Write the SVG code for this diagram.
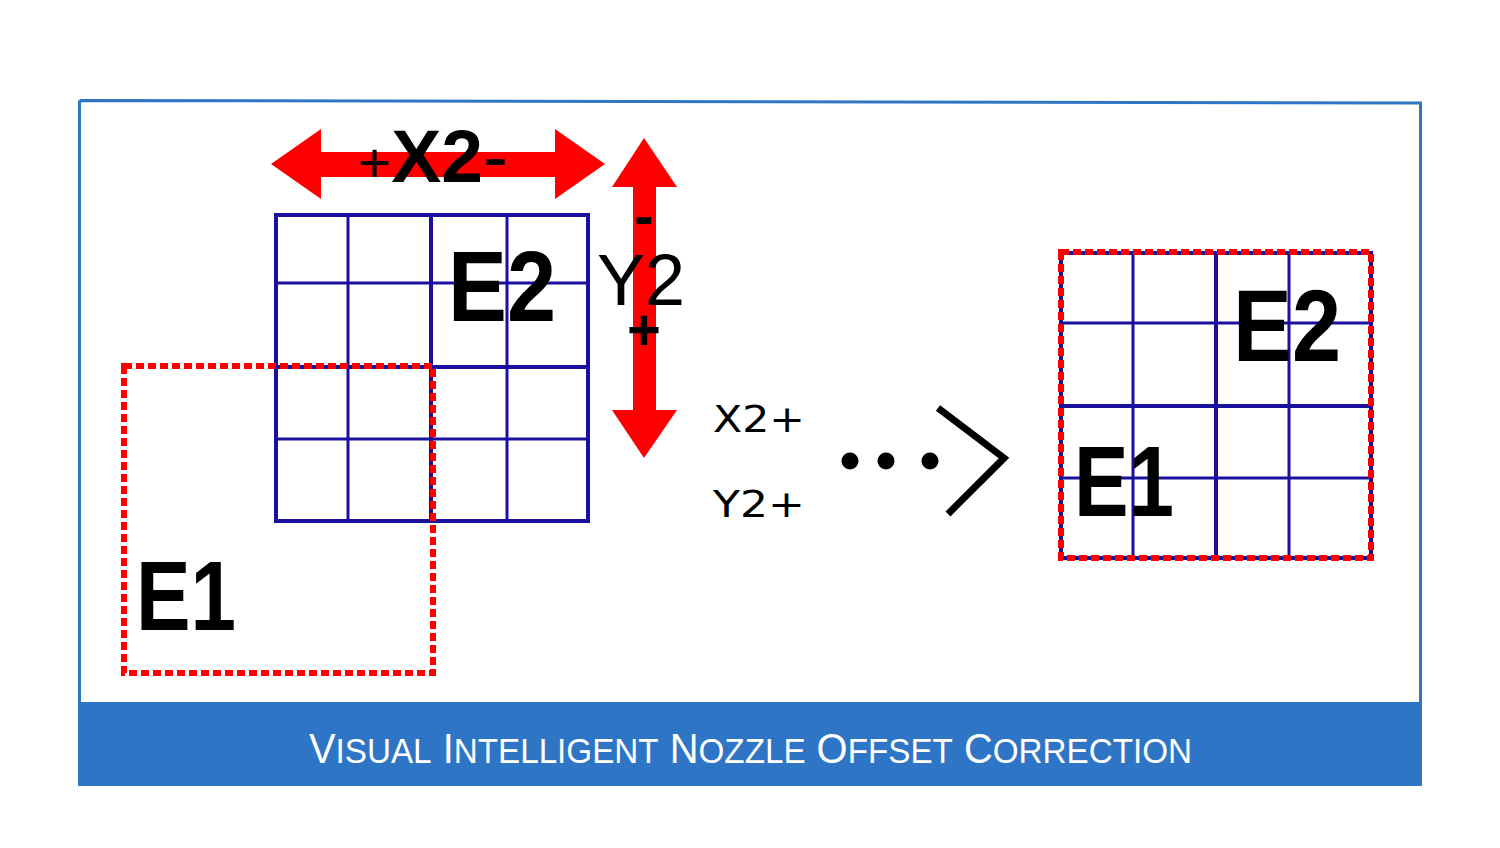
<svg xmlns="http://www.w3.org/2000/svg" width="1500" height="848" viewBox="0 0 1500 848">
<style>
.frame{fill:none;stroke:#2E75C6;stroke-width:3}
.band{fill:#2E75C6}
.grid{fill:none;stroke:#1A109E;stroke-width:3}
.gridb{fill:none;stroke:#1A109E;stroke-width:4}
.dash{fill:none;stroke:#FF0000;stroke-width:6;stroke-dasharray:8 4}
.arrow{fill:#FF0000}
.big{font-family:"Liberation Sans",Arial,sans-serif;font-weight:bold;fill:#000}
.lbl{font-family:"Liberation Sans",Arial,sans-serif;fill:#000}
.step{font-family:"DejaVu Sans",sans-serif;fill:#000}
.title{font-family:"Liberation Sans",Arial,sans-serif;fill:#fff}
</style>
<rect width="1500" height="848" fill="#fff"/>
<g id="frame">
<path class="frame" d="M79.5 100.5 L1420.5 103 L1420.5 704 M79.5 100.5 L79.5 704"/>
<rect class="band" x="78" y="702" width="1344" height="84"/>
<text class="title" x="309" y="763" font-size="42" textLength="883" lengthAdjust="spacingAndGlyphs">V<tspan font-size="35">ISUAL</tspan> I<tspan font-size="35">NTELLIGENT</tspan> N<tspan font-size="35">OZZLE</tspan> O<tspan font-size="35">FFSET</tspan> C<tspan font-size="35">ORRECTION</tspan></text>
</g>
<g id="e2-grid-left">
<path class="grid" d="M348 215 V521 M507 215 V521 M276 283 H588 M276 439 H588"/>
<path class="gridb" d="M431 215 V521 M276 367 H588"/>
<rect class="gridb" x="276" y="215" width="312" height="306"/>
<text class="big" x="448" y="321" font-size="100" textLength="108" lengthAdjust="spacingAndGlyphs">E2</text>
</g>
<g id="e1-box-left">
<rect class="dash" x="124" y="366" width="309" height="307"/>
<text class="big" x="136" y="630" font-size="99" textLength="100" lengthAdjust="spacingAndGlyphs">E1</text>
</g>
<g id="connectors">
<polygon class="arrow" points="271,164 321,129 321,152 555,152 555,129 605,164 555,199 555,177 321,177 321,199"/>
<polygon class="arrow" points="644,138 677,187 656,187 656,410 677,410 644,458 612,410 633,410 633,187 612,187"/>
<circle cx="850" cy="461" r="8.5" fill="#000"/>
<circle cx="886" cy="461" r="8.5" fill="#000"/>
<circle cx="930" cy="461" r="8.5" fill="#000"/>
<polyline points="938,408 1004,458 948,514" fill="none" stroke="#000" stroke-width="7"/>
</g>
<g id="x2-label">
<text class="lbl" x="358" y="182" font-size="74" textLength="150" lengthAdjust="spacingAndGlyphs"><tspan font-size="56">+</tspan><tspan font-weight="bold">X2</tspan>-</text>
</g>
<g id="y2-label">
<text class="lbl" x="597" y="305" font-size="72">Y2</text>
<text class="big" x="644" y="236" font-size="58" text-anchor="middle">-</text>
<text class="big" x="644" y="350" font-size="58" text-anchor="middle">+</text>
</g>
<g id="step-labels">
<text class="step" x="713" y="432" font-size="37" textLength="92" lengthAdjust="spacingAndGlyphs">X2+</text>
<text class="step" x="713" y="517" font-size="37" textLength="92" lengthAdjust="spacingAndGlyphs">Y2+</text>
</g>
<g id="result-grid">
<path class="grid" d="M1133 253 V558 M1289 253 V558 M1061 323 H1371 M1061 478 H1371"/>
<path class="gridb" d="M1216 253 V558 M1061 406 H1371"/>
<rect class="gridb" x="1061" y="253" width="310" height="305"/>
<rect class="dash" x="1061" y="252" width="310" height="306"/>
<text class="big" x="1233" y="361" font-size="102" textLength="108" lengthAdjust="spacingAndGlyphs">E2</text>
<text class="big" x="1074" y="516" font-size="100" textLength="100" lengthAdjust="spacingAndGlyphs">E1</text>
</g>
</svg>
